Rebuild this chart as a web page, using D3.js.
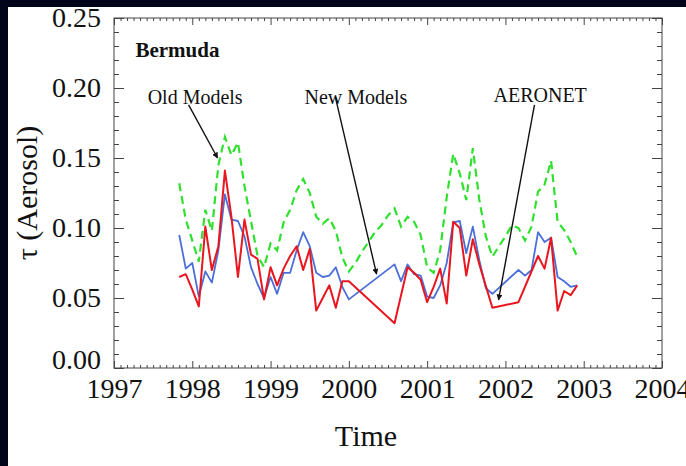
<!DOCTYPE html>
<html>
<head>
<meta charset="utf-8">
<script src="https://cdn.jsdelivr.net/npm/d3@7"></script>
<style>
  html, body { margin: 0; padding: 0; background: #02041a; }
  svg { display: block; }
  text { font-family: "Liberation Serif", "Times New Roman", serif; fill: #111; }
</style>
</head>
<body>
<svg id="chart" width="686" height="466"></svg>
<script>
// Monthly aerosol optical depth at Bermuda, "YYYY-MM" time stamps.
const oldModelMonths = [
  "1997-11","1997-12","1998-01","1998-02","1998-03","1998-04","1998-05","1998-06",
  "1998-07","1998-08","1998-09","1998-10","1998-11","1998-12","1999-01","1999-02",
  "1999-03","1999-04","1999-05","1999-06","1999-07","1999-08","1999-09","1999-10",
  "1999-11","1999-12","2000-01","2000-02","2000-03","2000-04","2000-05","2000-06",
  "2000-07","2000-08","2000-09","2000-10","2000-11","2000-12","2001-01","2001-02",
  "2001-03","2001-04","2001-05","2001-06","2001-07","2001-08","2001-09","2001-10",
  "2001-11","2001-12","2002-01","2002-02","2002-03","2002-04","2002-05","2002-06",
  "2002-07","2002-08","2002-09","2002-10","2002-11","2002-12"
];
const oldModelValues = [
  0.132, 0.106, 0.091, 0.076, 0.113, 0.098, 0.145, 0.165,
  0.152, 0.161, 0.130, 0.105, 0.080, 0.072, 0.089, 0.084,
  0.104, 0.113, 0.127, 0.135, 0.125, 0.108, 0.103, 0.107,
  0.098, 0.079, 0.069, 0.075, 0.083, 0.090, 0.097, 0.102,
  0.109, 0.114, 0.101, 0.108, 0.1045, 0.095, 0.072, 0.068,
  0.084, 0.122, 0.153, 0.139, 0.120, 0.157, 0.120, 0.094,
  0.0795, 0.087, 0.094, 0.102, 0.100, 0.091, 0.101, 0.126,
  0.131, 0.148, 0.1045, 0.0985, 0.090, 0.0795
];

const newModelMonths = [
  "1997-11","1997-12","1998-01","1998-02","1998-03","1998-04","1998-05","1998-06",
  "1998-07","1998-08","1998-09","1998-10","1998-11","1998-12","1999-01","1999-02",
  "1999-03","1999-04","1999-05","1999-06","1999-07","1999-08","1999-09","1999-10",
  "1999-11","1999-12","2000-01","2000-08","2000-09","2000-10","2000-11","2000-12",
  "2001-01","2001-02","2001-03","2001-04","2001-05","2001-06","2001-07","2001-08",
  "2001-09","2001-10","2001-11","2002-03","2002-04","2002-05","2002-06","2002-07",
  "2002-08","2002-09","2002-10","2002-11","2002-12"
];
const newModelValues = [
  0.095, 0.071, 0.075, 0.051, 0.069, 0.061, 0.084, 0.124,
  0.106, 0.105, 0.094, 0.072, 0.060, 0.050, 0.065, 0.053,
  0.068, 0.068, 0.084, 0.097, 0.087, 0.068, 0.065, 0.066,
  0.072, 0.058, 0.049, 0.074, 0.062, 0.074, 0.067, 0.066,
  0.051, 0.050, 0.059, 0.075, 0.104, 0.105, 0.082, 0.101,
  0.077, 0.057, 0.053, 0.070, 0.066, 0.070, 0.097, 0.090,
  0.093, 0.065, 0.062, 0.058, 0.059
];

const aeronetMonths = [
  "1997-11","1997-12","1998-01","1998-02","1998-03","1998-04","1998-05","1998-06",
  "1998-07","1998-08","1998-09","1998-10","1998-11","1998-12","1999-01","1999-02",
  "1999-03","1999-04","1999-05","1999-06","1999-07","1999-08","1999-09","1999-10",
  "1999-11","1999-12","2000-01","2000-08","2000-10","2000-11","2000-12","2001-01",
  "2001-02","2001-03","2001-04","2001-05","2001-06","2001-07","2001-08","2001-09",
  "2001-11","2002-03","2002-06","2002-07","2002-08","2002-09","2002-10","2002-11",
  "2002-12"
];
const aeronetValues = [
  0.065, 0.067, 0.056, 0.044, 0.101, 0.070, 0.087, 0.141,
  0.108, 0.065, 0.106, 0.081, 0.078, 0.049, 0.072, 0.059,
  0.071, 0.080, 0.087, 0.070, 0.085, 0.041, 0.050, 0.059,
  0.043, 0.062, 0.062, 0.032, 0.072, 0.068, 0.063, 0.047,
  0.058, 0.071, 0.046, 0.1045, 0.100, 0.066, 0.092, 0.074,
  0.043, 0.047, 0.080, 0.071, 0.093, 0.041, 0.055, 0.052,
  0.059
];

const yearTicks = [1997, 1998, 1999, 2000, 2001, 2002, 2003, 2004];
const tauTicks = [0.00, 0.05, 0.10, 0.15, 0.20, 0.25];
const tauMinorTicks = [0.01,0.02,0.03,0.04,0.06,0.07,0.08,0.09,0.11,0.12,0.13,0.14,
                       0.16,0.17,0.18,0.19,0.21,0.22,0.23,0.24];

// Text labels and their arrows, placed in data units (year, tau).
const annotations = [
  { text: "Old Models", at: [1997.43, 0.1886], from: [1997.953, 0.1879], to: [1998.323, 0.150] },
  { text: "New Models", at: [1999.434, 0.1886], from: [1999.830, 0.193], to: [2000.354, 0.067] },
  { text: "AERONET",    at: [2001.848, 0.190], from: [2002.371, 0.188], to: [2001.912, 0.0486] }
];

const W = 686, H = 466;
const margin = { top: 18, right: 24, bottom: 98, left: 114 };

const toYear = s => { const [yy, mm] = s.split("-").map(Number); return yy + (mm - 1) / 12; };
const zipSeries = (months, values) => months.map((m, i) => ({ t: toYear(m), v: values[i] }));

const x = d3.scaleLinear().domain([1997, 2004]).range([margin.left, W - margin.right]);
const y = d3.scaleLinear().domain([0, 0.25]).range([H - margin.bottom, margin.top]);

const svg = d3.select("#chart");

// white page area inside the dark surround
svg.append("rect").attr("x", 8).attr("y", 7).attr("width", W - 8).attr("height", H - 7).attr("fill", "#ffffff");

const monthTicks = d3.range(0, 7 * 12 + 1).map(i => 1997 + i / 12).filter((d, i) => i % 12 !== 0);

function styleAxis(g) {
  g.select(".domain").remove();
  g.selectAll(".tick line").attr("stroke", "#444").attr("stroke-width", 1);
  g.selectAll(".tick text").attr("font-size", 28).attr("fill", "#111")
    .attr("font-family", "Liberation Serif, serif");
}

const bottomY = H - margin.bottom, rightX = W - margin.right;

// minor ticks (monthly / 0.01)
svg.append("g").attr("transform", `translate(0,${bottomY})`)
  .call(d3.axisBottom(x).tickValues(monthTicks).tickSize(-3).tickFormat("")).call(styleAxis);
svg.append("g").attr("transform", `translate(0,${margin.top})`)
  .call(d3.axisTop(x).tickValues(monthTicks).tickSize(-3).tickFormat("")).call(styleAxis);
svg.append("g").attr("transform", `translate(${margin.left},0)`)
  .call(d3.axisLeft(y).tickValues(tauMinorTicks).tickSize(-5).tickFormat("")).call(styleAxis);
svg.append("g").attr("transform", `translate(${rightX},0)`)
  .call(d3.axisRight(y).tickValues(tauMinorTicks).tickSize(-5).tickFormat("")).call(styleAxis);

// major ticks
svg.append("g").attr("transform", `translate(0,${bottomY})`)
  .call(d3.axisBottom(x).tickValues(yearTicks).tickSize(-7).tickPadding(10).tickFormat(d3.format("d")))
  .call(styleAxis);
svg.append("g").attr("transform", `translate(0,${margin.top})`)
  .call(d3.axisTop(x).tickValues(yearTicks).tickSize(-7).tickFormat("")).call(styleAxis);
const leftAxis = svg.append("g").attr("transform", `translate(${margin.left},0)`)
  .call(d3.axisLeft(y).tickValues(tauTicks).tickSize(-10).tickPadding(13).tickFormat(d3.format(".2f")))
  .call(styleAxis);
leftAxis.selectAll(".tick text").filter(d => d === 0).attr("y", -8);
svg.append("g").attr("transform", `translate(${rightX},0)`)
  .call(d3.axisRight(y).tickValues(tauTicks).tickSize(-10).tickFormat("")).call(styleAxis);

// frame
svg.append("rect")
  .attr("x", margin.left).attr("y", margin.top)
  .attr("width", rightX - margin.left).attr("height", bottomY - margin.top)
  .attr("fill", "none").attr("stroke", "#444").attr("stroke-width", 1);

// series
const line = d3.line().x(d => x(d.t)).y(d => y(d.v));
const plot = svg.append("g");
plot.append("path").datum(zipSeries(oldModelMonths, oldModelValues))
  .attr("d", line).attr("fill", "none").attr("stroke", "#2fe02f")
  .attr("stroke-width", 2.2).attr("stroke-dasharray", "8,5");
plot.append("path").datum(zipSeries(newModelMonths, newModelValues))
  .attr("d", line).attr("fill", "none").attr("stroke", "#4a6fd8")
  .attr("stroke-width", 1.8).attr("stroke-linejoin", "round");
plot.append("path").datum(zipSeries(aeronetMonths, aeronetValues))
  .attr("d", line).attr("fill", "none").attr("stroke", "#e8161f")
  .attr("stroke-width", 2).attr("stroke-linejoin", "round");

// arrowhead marker
svg.append("defs").append("marker")
  .attr("id", "arrowhead").attr("viewBox", "0 0 10 10")
  .attr("refX", 9).attr("refY", 5)
  .attr("markerWidth", 6).attr("markerHeight", 6)
  .attr("markerUnits", "userSpaceOnUse")
  .attr("orient", "auto")
  .append("path").attr("d", "M0,0 L10,5 L0,10 Z").attr("fill", "#111");

const notes = svg.append("g");
annotations.forEach(a => {
  notes.append("line")
    .attr("x1", x(a.from[0])).attr("y1", y(a.from[1]))
    .attr("x2", x(a.to[0])).attr("y2", y(a.to[1]))
    .attr("stroke", "#111").attr("stroke-width", 1.4)
    .attr("marker-end", "url(#arrowhead)");
  notes.append("text")
    .attr("x", x(a.at[0])).attr("y", y(a.at[1]))
    .attr("font-size", 20).text(a.text);
});

// station name
svg.append("text")
  .attr("x", x(1997.274)).attr("y", y(0.222))
  .attr("font-size", 21).attr("font-weight", "bold").text("Bermuda");

// axis titles
svg.append("text")
  .attr("transform", `translate(37,${(margin.top + bottomY) / 2 + 0}) rotate(-90)`)
  .attr("text-anchor", "middle").attr("font-size", 30).text("τ (Aerosol)");
svg.append("text")
  .attr("x", 366).attr("y", 446)
  .attr("text-anchor", "middle").attr("font-size", 30).text("Time");
</script>
</body>
</html>
